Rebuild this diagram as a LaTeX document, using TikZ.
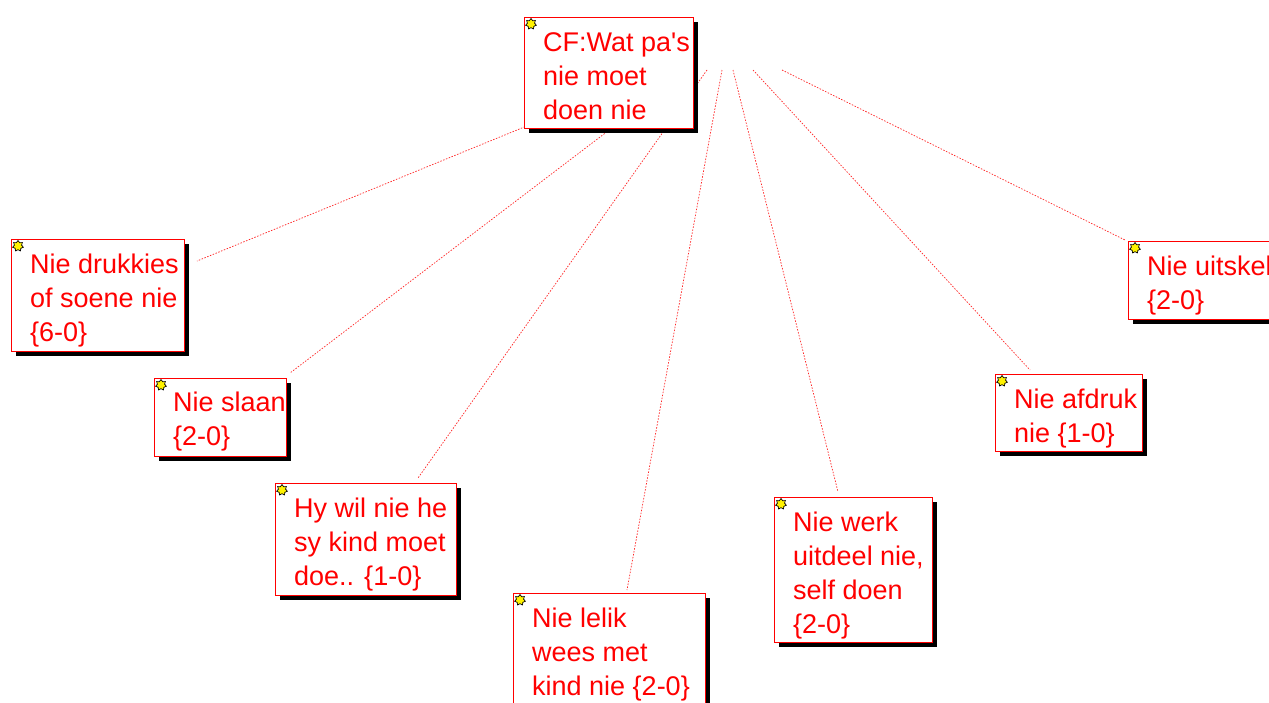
\documentclass[tikz,border=0pt]{standalone}
\usepackage{fontspec}
\setmainfont{Liberation Sans}[Ligatures=TeXOff]
\usetikzlibrary{shapes.geometric,shadows}
\pgfdeclarelayer{bglayer}
\pgfdeclarelayer{background}
\pgfsetlayers{bglayer,background,main}
\tikzset{
  boxst/.style={draw=red, fill=white, line width=1pt, inner sep=0pt, anchor=north west,
    general shadow={fill=black, shadow xshift=4pt, shadow yshift=-4pt}},
  txt/.style={text=red, font=\fontsize{27}{34}\selectfont, align=left, anchor=base west, inner sep=0pt},
  icon/.style={star, star points=7, star point ratio=1.5, minimum size=11pt, inner sep=0pt,
    fill=yellow, draw=black, line width=0.7pt},
  link/.style={draw=red!85, line width=0.7pt, dash pattern=on 1.5pt off 1.5pt}
}
\begin{document}
\begin{tikzpicture}[x=1pt,y=-1pt]
\useasboundingbox (0,0) rectangle (1269,702);
\begin{pgfonlayer}{bglayer}
\fill[white] (0,0) rectangle (1269,702);
\end{pgfonlayer}
\begin{scope}
\clip (0,0) rectangle (1269,702);
% boxes
\node[boxst, minimum width=169pt, minimum height=111pt] (cf) at (524,17) {};
\node[boxst, minimum width=173pt, minimum height=112pt] (druk) at (11,239) {};
\node[boxst, minimum width=132pt, minimum height=78pt] (slaan) at (154,378) {};
\node[boxst, minimum width=181pt, minimum height=112pt] (hywil) at (275,483) {};
\node[boxst, minimum width=192pt, minimum height=140pt] (lelik) at (513,593) {};
\node[boxst, minimum width=158pt, minimum height=145pt] (werk) at (774,497) {};
\node[boxst, minimum width=147pt, minimum height=77pt] (afdruk) at (995,374) {};
\node[boxst, minimum width=160pt, minimum height=78pt] (uitskel) at (1128,241) {};
% icons
\foreach \b in {cf,druk,slaan,hywil,lelik,werk,afdruk,uitskel}
  \node[icon] (\b-icon) at ([shift={(7pt,-7pt)}]\b.north west) {};
% texts (anchored at the baseline of their last line)
\node[txt] (cf-t) at (543,119) {CF:Wat pa's\\nie moet\\doen nie};
\node[txt] (druk-t) at (30,341) {Nie drukkies\\of soene nie\\\{6-0\}};
\node[txt] (slaan-t) at (173,445) {Nie slaan\\\{2-0\}};
\node[txt] (hywil-t) at (294,585) {Hy wil nie he\\sy kind moet\\doe.. \{1-0\}};
\node[txt] (lelik-t) at (532,695) {Nie lelik\\wees met\\kind nie \{2-0\}};
\node[txt] (werk-t) at (793,633) {Nie werk\\uitdeel nie,\\self doen\\\{2-0\}};
\node[txt] (afdruk-t) at (1014,442) {Nie afdruk\\nie \{1-0\}};
\node[txt] (uitskel-t) at (1147,309) {Nie uitskel\\\{2-0\}};
% connector ends
\coordinate (c1) at (600,96);  \coordinate (e1) at (197,261);
\coordinate (c2) at (650,99);  \coordinate (e2) at (290,373);
\coordinate (c3) at (707,70);  \coordinate (e3) at (418,478);
\coordinate (c4) at (722,70);  \coordinate (e4) at (627,590);
\coordinate (c5) at (733,70);  \coordinate (e5) at (838,492);
\coordinate (c6) at (753,70);  \coordinate (e6) at (1030,370);
\coordinate (c7) at (782,70);  \coordinate (e7) at (1125,240);
\begin{pgfonlayer}{background}
\foreach \i in {1,...,7} \draw[link] (c\i) -- (e\i);
\end{pgfonlayer}
\end{scope}
\end{tikzpicture}
\end{document}
